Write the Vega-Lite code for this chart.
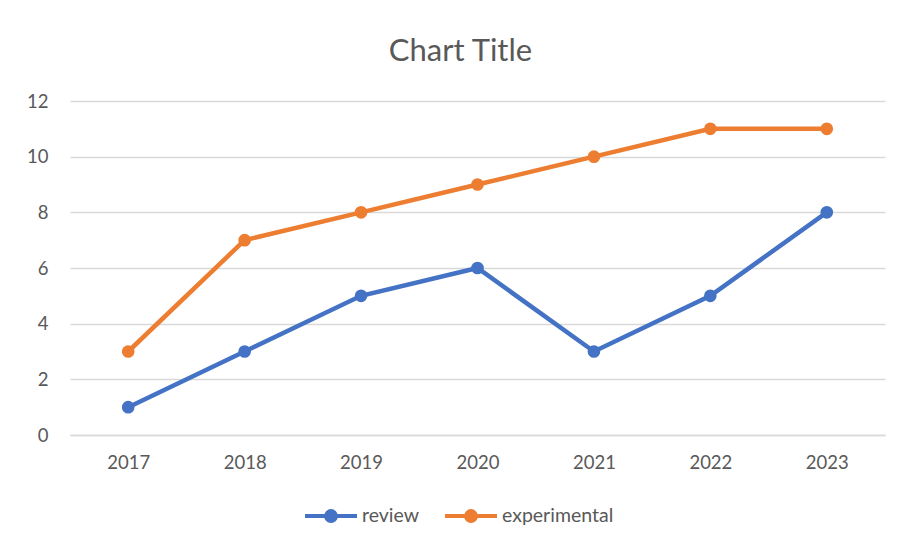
{
  "$schema": "https://vega.github.io/schema/vega-lite/v6.json",
  "width": 815,
  "height": 334,
  "autosize": "none",
  "padding": {"left": 70, "top": 101, "right": 16, "bottom": 111},
  "background": "white",
  "title": {"text": "Chart Title", "fontSize": 31, "font": "Lato", "fontWeight": "normal", "color": "#595959", "offset": 24, "dx": -17, "anchor": "middle", "frame": "group"},
  "config": {
    "view": {"stroke": null},
    "font": "Lato",
    "axis": {"labelFont": "Lato", "labelFontSize": 18.5, "labelColor": "#595959", "ticks": false, "title": null, "gridColor": "#d9d9d9", "gridWidth": 1.3}
  },
  "data": {"values": [
    {"year": "2017", "series": "review", "value": 1},
    {"year": "2018", "series": "review", "value": 3},
    {"year": "2019", "series": "review", "value": 5},
    {"year": "2020", "series": "review", "value": 6},
    {"year": "2021", "series": "review", "value": 3},
    {"year": "2022", "series": "review", "value": 5},
    {"year": "2023", "series": "review", "value": 8},
    {"year": "2017", "series": "experimental", "value": 3},
    {"year": "2018", "series": "experimental", "value": 7},
    {"year": "2019", "series": "experimental", "value": 8},
    {"year": "2020", "series": "experimental", "value": 9},
    {"year": "2021", "series": "experimental", "value": 10},
    {"year": "2022", "series": "experimental", "value": 11},
    {"year": "2023", "series": "experimental", "value": 11}
  ]},
  "encoding": {
    "x": {"field": "year", "type": "ordinal", "scale": {"type": "point", "padding": 0.5}, "axis": {"labelAngle": 0, "labelPadding": 18, "domain": true, "domainColor": "#d9d9d9", "domainWidth": 1.3, "grid": false}},
    "y": {"field": "value", "type": "quantitative", "scale": {"domain": [0, 12], "nice": false}, "axis": {"values": [0, 2, 4, 6, 8, 10, 12], "domain": false, "labelPadding": 22, "grid": true}},
    "color": {"field": "series", "type": "nominal", "scale": {"domain": ["review", "experimental"], "range": ["#4472C4", "#ED7D31"]},
      "legend": {"title": null, "orient": "none", "direction": "horizontal", "legendX": 233, "legendY": 387, "labelFontSize": 19.5, "labelColor": "#595959", "labelFont": "Lato", "labelOffset": 3, "columnPadding": 17,
        "symbolType": "M-1,0L1,0M0.19,0A0.19,0.19,0,1,1,-0.19,0A0.19,0.19,0,1,1,0.19,0Z", "symbolSize": 2700, "symbolStrokeWidth": 4,
        "encode": {"symbols": {"update": {"fill": {"scale": "color", "field": "value"}, "stroke": {"scale": "color", "field": "value"}, "opacity": {"value": 1}}}}}}
  },
  "layer": [
    {"mark": {"type": "line", "strokeWidth": 4.5}},
    {"mark": {"type": "point", "filled": true, "size": 160, "opacity": 1}}
  ]
}
